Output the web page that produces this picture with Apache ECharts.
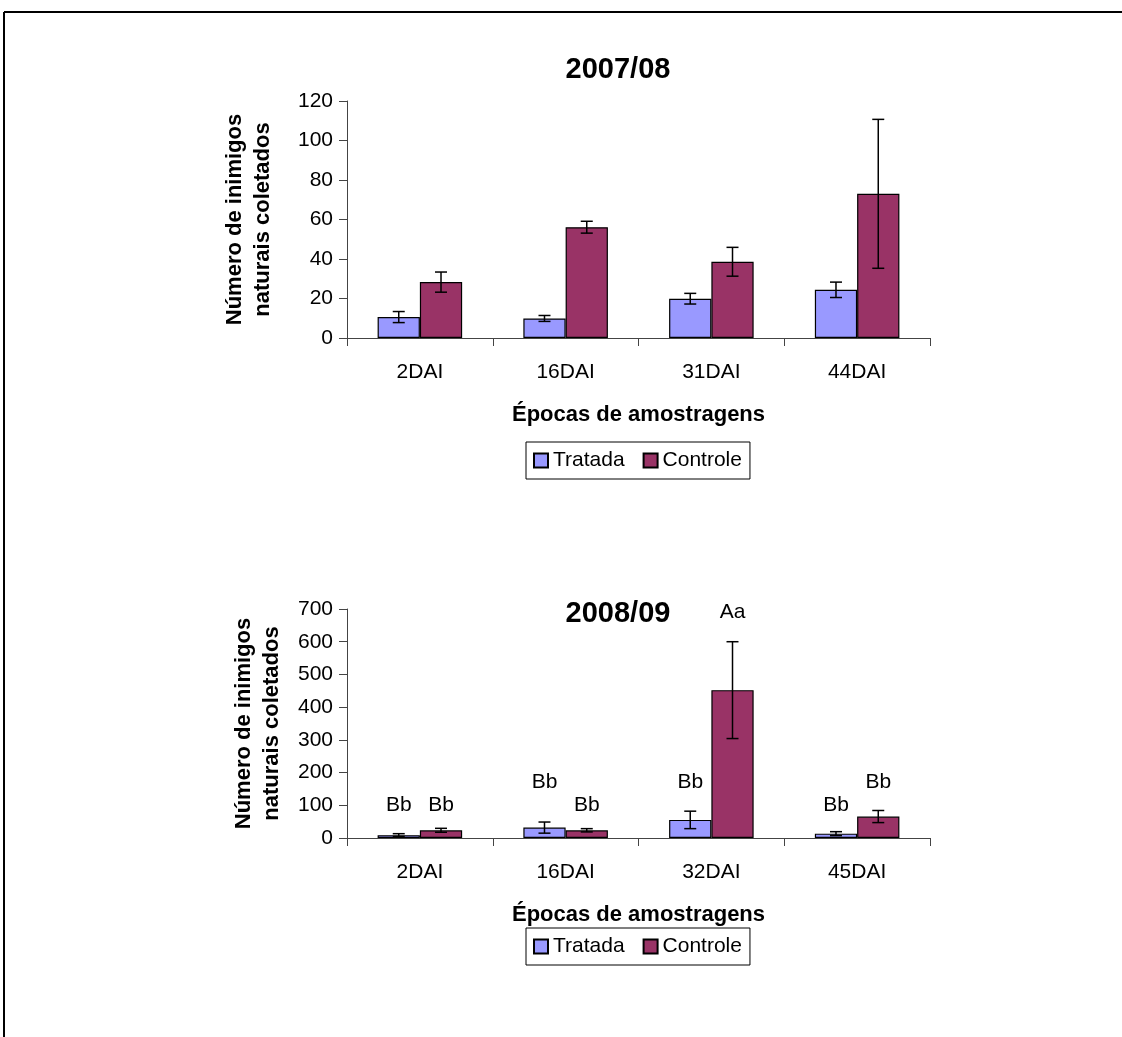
<!DOCTYPE html>
<html>
<head>
<meta charset="utf-8">
<script src="https://cdn.jsdelivr.net/npm/echarts@6/dist/echarts.min.js"></script>
<style>
html,body{margin:0;padding:0;background:#fff;}
#c{width:1122px;height:1037px;}
</style>
</head>
<body>
<div id="c"></div>
<script>
// ---- data ----
const categories1 = ['2DAI', '16DAI', '31DAI', '44DAI'];
const tratada1 = [10.6, 9.9, 19.9, 24.4];
const tratadaErr1 = [2.8, 1.5, 2.7, 3.9];
const controle1 = [28.3, 56.1, 38.6, 73.0];
const controleErr1 = [5.1, 3.0, 7.3, 37.7];

const categories2 = ['2DAI', '16DAI', '32DAI', '45DAI'];
const tratada2 = [8.7, 31.8, 55.3, 13.3];
const tratadaErr2 = [4.5, 17.0, 26.7, 6.0];
const controle2 = [23.6, 23.6, 452, 65.6];
const controleErr2 = [6.0, 5.0, 148, 18.5];

const tratadaLetters2 = ['Bb', 'Bb', 'Bb', 'Bb'];
const tratadaLetterPos2 = [100, 170, 170, 100];
const controleLetters2 = ['Bb', 'Bb', 'Aa', 'Bb'];
const controleLetterPos2 = [100, 100, 690, 170];

const yTicks1 = {min: 0, max: 120, interval: 20};
const yTicks2 = {min: 0, max: 700, interval: 100};

const titles = ['2007/08', '2008/09'];
const seriesNames = ['Tratada', 'Controle'];
const colors = ['#9999FF', '#993366'];
const yName = 'Número de inimigos\nnaturais coletados';
const xName = 'Épocas de amostragens';

// ---- chart ----
const FONT = '"Liberation Sans", Arial, sans-serif';
const GAP = 0.42;

function errItem(sign) {
  return function (params, api) {
    const i = api.value(0), v = api.value(1), e = api.value(2);
    const catW = api.size([1, 0])[0];
    const bw = catW * (1 - GAP) / 2;
    const c = api.coord([i, v]);
    const x = c[0] + sign * bw / 2;
    const top = api.coord([i, v + e])[1];
    const bot = api.coord([i, Math.max(0, v - e)])[1];
    const cap = 6;
    const st = {stroke: '#000', lineWidth: 1.5};
    return {
      type: 'group',
      children: [
        {type: 'line', shape: {x1: x, y1: top, x2: x, y2: bot}, style: st},
        {type: 'line', shape: {x1: x - cap, y1: top, x2: x + cap, y2: top}, style: st},
        {type: 'line', shape: {x1: x - cap, y1: bot, x2: x + cap, y2: bot}, style: st}
      ]
    };
  };
}

function letterItem(sign, letters) {
  return function (params, api) {
    const i = api.value(0), v = api.value(1);
    const catW = api.size([1, 0])[0];
    const bw = catW * (1 - GAP) / 2;
    const c = api.coord([i, v]);
    return {
      type: 'text',
      x: c[0] + sign * bw / 2,
      y: c[1],
      style: {
        text: letters[params.dataIndex],
        fill: '#000',
        font: '21px ' + FONT,
        align: 'center',
        verticalAlign: 'middle'
      }
    };
  };
}

function errData(vals, errs) { return vals.map((v, i) => [i, v, errs[i]]); }
function posData(pos) { return pos.map((v, i) => [i, v]); }

const axisLine = {lineStyle: {color: '#444', width: 1}};

const xAxisBase = (cats, gi) => ({
  type: 'category', gridIndex: gi, data: cats,
  axisLine: axisLine,
  axisTick: {show: true, length: 8, lineStyle: {color: '#444'}},
  axisLabel: {color: '#000', fontSize: 21, fontFamily: FONT, margin: 24},
  name: xName, nameLocation: 'middle', nameGap: 66,
  nameTextStyle: {color: '#000', fontSize: 22, fontWeight: 'bold', fontFamily: FONT}
});

const yAxisBase = (t, gi, gap) => ({
  type: 'value', gridIndex: gi, min: t.min, max: t.max, interval: t.interval,
  axisLine: {show: true, lineStyle: {color: '#444', width: 1}},
  axisTick: {show: true, length: 8, lineStyle: {color: '#444'}},
  splitLine: {show: false},
  axisLabel: {color: '#000', fontSize: 21, fontFamily: FONT, margin: 14},
  name: yName, nameLocation: 'middle', nameGap: gap,
  nameTextStyle: {color: '#000', fontSize: 22, fontWeight: 'bold', fontFamily: FONT, lineHeight: 28, align: 'center'}
});

const barSeries = (name, data, gi, color) => ({
  name: name, type: 'bar', xAxisIndex: gi, yAxisIndex: gi, data: data,
  barGap: '0%', barCategoryGap: (GAP * 100) + '%',
  itemStyle: {color: color, borderColor: '#000', borderWidth: 1.2},
  z: 2
});

const legendBase = (top) => ({
  data: seriesNames, left: 526, top: top,
  orient: 'horizontal',
  itemWidth: 14, itemHeight: 14, itemGap: 18,
  icon: 'rect',
  borderColor: '#000', borderWidth: 1, padding: [8, 8, 8, 7],
  textStyle: {color: '#000', fontSize: 21, fontFamily: FONT},
  selectedMode: false
});

const option = {
  animation: false,
  backgroundColor: '#fff',
  title: [
    {text: titles[0], left: 613, top: 50, textAlign: 'center',
     textStyle: {fontSize: 29, fontWeight: 'bold', fontFamily: FONT, color: '#000'}},
    {text: titles[1], left: 613, top: 594, textAlign: 'center',
     textStyle: {fontSize: 29, fontWeight: 'bold', fontFamily: FONT, color: '#000'}}
  ],
  legend: [legendBase(442), legendBase(928)],
  grid: [
    {left: 347, top: 101, width: 583, height: 237},
    {left: 347, top: 609, width: 583, height: 229}
  ],
  xAxis: [xAxisBase(categories1, 0), xAxisBase(categories2, 1)],
  yAxis: [yAxisBase(yTicks1, 0, 70), yAxisBase(yTicks2, 1, 61)],
  graphic: [
    {type: 'line', shape: {x1: 4, y1: 12, x2: 1122, y2: 12}, style: {stroke: '#000', lineWidth: 2}},
    {type: 'line', shape: {x1: 4, y1: 12, x2: 4, y2: 1037}, style: {stroke: '#000', lineWidth: 2}}
  ],
  series: [
    barSeries(seriesNames[0], tratada1, 0, colors[0]),
    barSeries(seriesNames[1], controle1, 0, colors[1]),
    barSeries(seriesNames[0], tratada2, 1, colors[0]),
    barSeries(seriesNames[1], controle2, 1, colors[1]),
    {type: 'custom', xAxisIndex: 0, yAxisIndex: 0, renderItem: errItem(-1), data: errData(tratada1, tratadaErr1), z: 5, silent: true},
    {type: 'custom', xAxisIndex: 0, yAxisIndex: 0, renderItem: errItem(1), data: errData(controle1, controleErr1), z: 5, silent: true},
    {type: 'custom', xAxisIndex: 1, yAxisIndex: 1, renderItem: errItem(-1), data: errData(tratada2, tratadaErr2), z: 5, silent: true},
    {type: 'custom', xAxisIndex: 1, yAxisIndex: 1, renderItem: errItem(1), data: errData(controle2, controleErr2), z: 5, silent: true},
    {type: 'custom', xAxisIndex: 1, yAxisIndex: 1, renderItem: letterItem(-1, tratadaLetters2), data: posData(tratadaLetterPos2), z: 6, silent: true, clip: false},
    {type: 'custom', xAxisIndex: 1, yAxisIndex: 1, renderItem: letterItem(1, controleLetters2), data: posData(controleLetterPos2), z: 6, silent: true, clip: false}
  ]
};

const chart = echarts.init(document.getElementById('c'), null, {renderer: 'canvas'});
chart.setOption(option);
</script>
</body>
</html>
